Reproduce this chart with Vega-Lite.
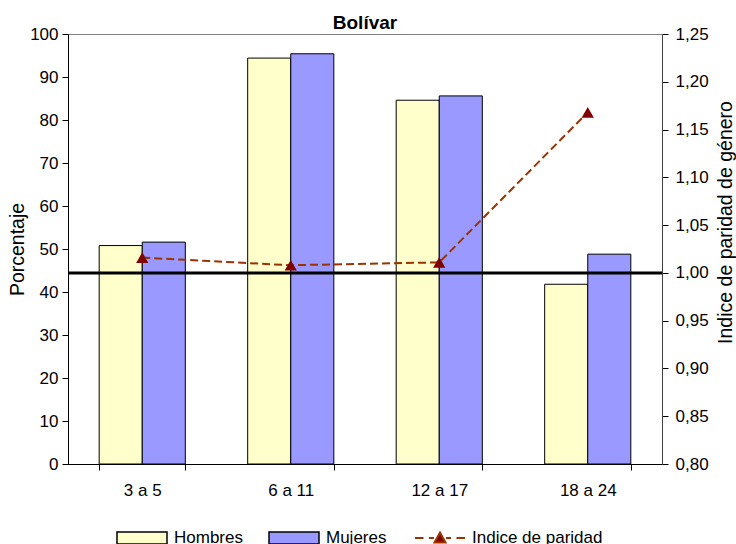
{
  "$schema": "https://vega.github.io/schema/vega-lite/v6.json",
  "autosize": {"type": "none"},
  "width": 594,
  "height": 430,
  "padding": {"left": 68, "top": 34, "right": 74, "bottom": 80},
  "background": "white",
  "config": {
    "font": "Liberation Sans",
    "view": {"stroke": "#808080", "strokeWidth": 1},
    "axis": {
      "labelFont": "Liberation Sans",
      "labelFontSize": 17,
      "labelColor": "black",
      "titleFont": "Liberation Sans",
      "titleFontSize": 19.5,
      "titleFontWeight": "normal",
      "titleColor": "black",
      "tickColor": "black",
      "domainColor": "black",
      "tickSize": 6,
      "grid": false
    },
    "legend": {
      "labelFont": "Liberation Sans",
      "labelFontSize": 17,
      "labelColor": "black",
      "labelOffset": 6,
      "padding": 0
    }
  },
  "title": {"text": "Bolívar", "fontSize": 19, "fontWeight": "bold", "font": "Liberation Sans", "color": "black", "offset": -8},
  "datasets": {
    "barras": [
      {"grupo": "3 a 5", "sexo": "Hombres", "porcentaje": 50.8},
      {"grupo": "3 a 5", "sexo": "Mujeres", "porcentaje": 51.6},
      {"grupo": "6 a 11", "sexo": "Hombres", "porcentaje": 94.4},
      {"grupo": "6 a 11", "sexo": "Mujeres", "porcentaje": 95.4},
      {"grupo": "12 a 17", "sexo": "Hombres", "porcentaje": 84.6},
      {"grupo": "12 a 17", "sexo": "Mujeres", "porcentaje": 85.6},
      {"grupo": "18 a 24", "sexo": "Hombres", "porcentaje": 41.8},
      {"grupo": "18 a 24", "sexo": "Mujeres", "porcentaje": 48.8}
    ],
    "indice": [
      {"grupo": "3 a 5", "indice": 1.016},
      {"grupo": "6 a 11", "indice": 1.008},
      {"grupo": "12 a 17", "indice": 1.011},
      {"grupo": "18 a 24", "indice": 1.168}
    ],
    "referencia": [{"valor": 1.0}]
  },
  "layer": [
    {
      "data": {"name": "barras"},
      "mark": {"type": "bar", "stroke": "black", "strokeWidth": 1},
      "encoding": {
        "x": {
          "field": "grupo", "type": "nominal",
          "sort": ["3 a 5", "6 a 11", "12 a 17", "18 a 24"],
          "scale": {"paddingInner": 0.42, "paddingOuter": 0.21},
          "axis": {"title": null, "labelAngle": 0, "labelPadding": 12, "tickBand": "extent"}
        },
        "xOffset": {"field": "sexo", "type": "nominal", "sort": ["Hombres", "Mujeres"]},
        "y": {
          "field": "porcentaje", "type": "quantitative",
          "scale": {"domain": [0, 100]},
          "axis": {"title": "Porcentaje", "values": [0, 10, 20, 30, 40, 50, 60, 70, 80, 90, 100], "labelPadding": 4, "titlePadding": 2}
        },
        "fill": {
          "field": "sexo", "type": "nominal",
          "scale": {"domain": ["Hombres", "Mujeres"], "range": ["#FFFFCC", "#9999FF"]},
          "legend": {
            "title": null,
            "orient": "none",
            "legendX": 48,
            "legendY": 478,
            "direction": "horizontal",
            "symbolType": "M-1,-0.24H1V0.24H-1Z",
            "symbolSize": 2500,
            "symbolStrokeColor": "black",
            "symbolStrokeWidth": 1.5,
            "symbolOpacity": 1,
            "columnPadding": 23
          }
        }
      }
    },
    {
      "layer": [
        {
          "data": {"name": "referencia"},
          "mark": {"type": "rule", "color": "black", "strokeWidth": 3},
          "encoding": {
            "y": {"field": "valor", "type": "quantitative", "scale": {"domain": [0.8, 1.25]}}
          }
        },
        {
          "data": {"name": "indice"},
          "mark": {"type": "line", "strokeWidth": 2, "strokeDash": [8, 4]},
          "encoding": {
            "x": {"field": "grupo", "type": "nominal", "sort": ["3 a 5", "6 a 11", "12 a 17", "18 a 24"]},
            "y": {
              "field": "indice", "type": "quantitative",
              "scale": {"domain": [0.8, 1.25]},
              "axis": {
                "orient": "right",
                "title": "Indice de paridad de género",
                "values": [0.8, 0.85, 0.9, 0.95, 1.0, 1.05, 1.1, 1.15, 1.2, 1.25],
                "labelExpr": "replace(format(datum.value, '.2f'), '.', ',')",
                "labelPadding": 7,
                "titleAngle": 270,
                "titleY": 188,
                "titlePadding": 27,
                "domainColor": "#404040"
              }
            },
            "stroke": {
              "datum": "Indice de paridad",
              "scale": {"domain": ["Indice de paridad"], "range": ["#993300"]},
              "legend": {
                "title": null,
                "orient": "none",
                "legendX": 346,
                "legendY": 478,
                "direction": "horizontal",
                "symbolType": "M-1,0H-0.66M-0.44,0H-0.24M0.24,0H0.44M0.66,0H1M-0.22,0.18L0,-0.22L0.22,0.18Z",
                "symbolSize": 2500,
                "symbolFillColor": "#800000",
                "symbolStrokeWidth": 2,
                "symbolOpacity": 1
              }
            }
          }
        },
        {
          "data": {"name": "indice"},
          "mark": {"type": "point", "shape": "triangle-up", "filled": true, "color": "#800000", "size": 150, "opacity": 1},
          "encoding": {
            "x": {"field": "grupo", "type": "nominal", "sort": ["3 a 5", "6 a 11", "12 a 17", "18 a 24"]},
            "y": {"field": "indice", "type": "quantitative"}
          }
        }
      ]
    }
  ],
  "resolve": {"scale": {"y": "independent"}}
}
